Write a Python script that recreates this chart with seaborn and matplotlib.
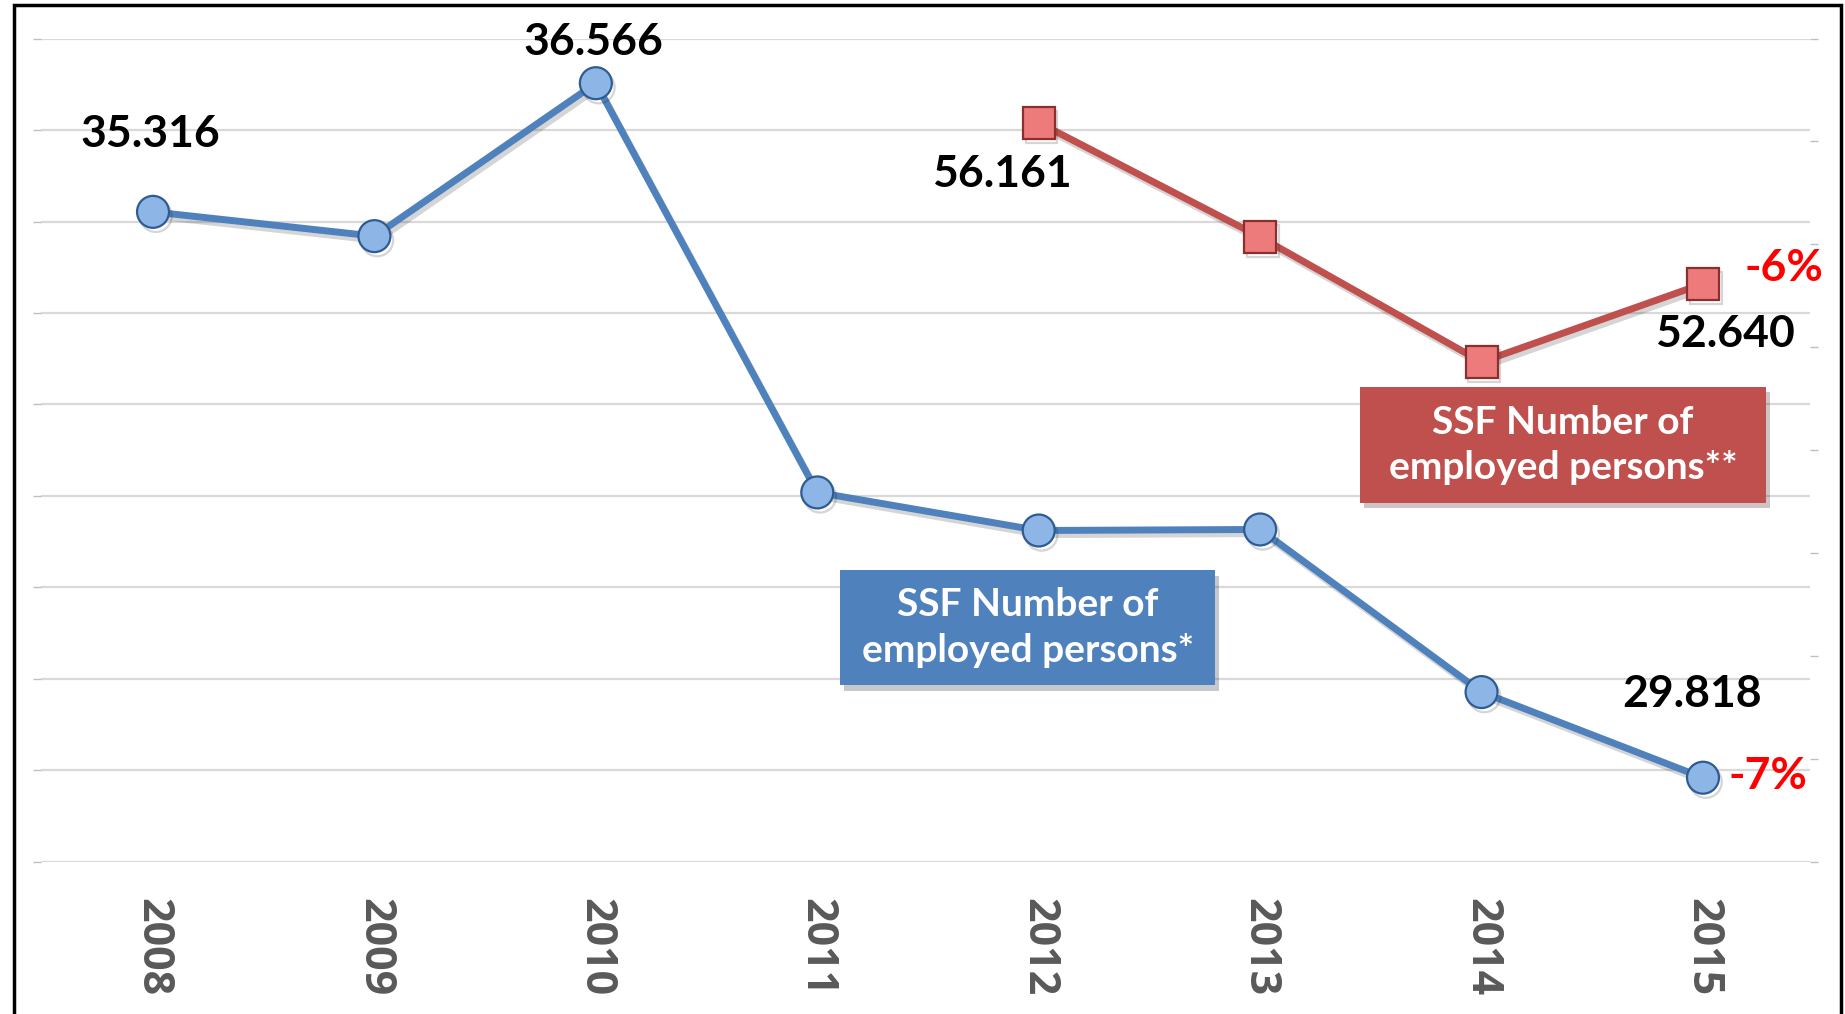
import numpy as np
import pandas as pd
import seaborn as sns
import matplotlib.pyplot as plt
import matplotlib.patheffects as pe
from matplotlib.patches import Rectangle

years = [2008, 2009, 2010, 2011, 2012, 2013, 2014, 2015]
blue_vals = [35.316, 35.08, 36.566, 32.59, 32.22, 32.23, 30.65, 29.818]
red_years = [2012, 2013, 2014, 2015]
red_vals = [56.161, 53.66, 50.93, 52.640]
blue_name = "SSF Number of\nemployed persons*"
red_name = "SSF Number of\nemployed persons**"
blue_change = "-7%"
red_change = "-6%"

BLUE = "#4F81BD"
RED = "#C0504D"

sns.set_theme(style="white")
plt.rcParams['font.family'] = ['Lato', 'DejaVu Sans']

fig = plt.figure(figsize=(18.45, 10.14), dpi=100)
fig.subplots_adjust(left=0.0222, right=0.981, bottom=0.150, top=0.962)
ax = fig.add_subplot(111)
ax2 = ax.twinx()

df_b = pd.DataFrame({"year": years, "val": blue_vals})
df_r = pd.DataFrame({"year": red_years, "val": red_vals})

shadow = [pe.SimpleLineShadow(offset=(2, -3), alpha=0.18), pe.Normal()]

sns.lineplot(data=df_b, x="year", y="val", ax=ax, color=BLUE, linewidth=5,
             marker="o", markersize=23, markerfacecolor="#8DB6E6",
             markeredgecolor="#2E5C92", markeredgewidth=1.6,
             path_effects=shadow, zorder=5)
sns.lineplot(data=df_r, x="year", y="val", ax=ax2, color=RED, linewidth=5,
             marker="s", markersize=23, markerfacecolor="#EE7B7B",
             markeredgecolor="#8A2E2E", markeredgewidth=1.6,
             path_effects=shadow, zorder=5)

ax.set_xlim(2007.494, 2015.483)
ax.set_ylim(29, 37)
ax2.set_ylim(40, 58)
ax.set_yticks(np.linspace(29, 37, 10))
ax2.set_yticks(np.linspace(40, 58, 9))
ax.set_xticks(years)
ax.set_xticklabels([str(y) for y in years], rotation=-90, fontsize=31,
                   fontweight="bold", color="#595959", family=["Open Sans", "DejaVu Sans"])
ax.tick_params(axis="x", length=0, pad=26)
ax.tick_params(axis="y", length=6, width=1, color="#BFBFBF", labelleft=False, left=True)
ax2.tick_params(axis="y", length=6, width=1, color="#BFBFBF", labelright=False, right=True)
ax.grid(axis="y", color="#D9D9D9", linewidth=1.6)
ax.grid(axis="x", visible=False)
ax2.grid(False)
for a in (ax, ax2):
    for s in a.spines.values():
        s.set_visible(False)
    a.set_xlabel("")
    a.set_ylabel("")

lab = dict(textcoords="offset pixels", ha="center", va="center",
           fontsize=32, fontweight="bold", color="black", zorder=10)
ax.annotate(f"{blue_vals[0]:.3f}", (years[0], blue_vals[0]), xytext=(-3, 78), **lab)
ax.annotate(f"{blue_vals[2]:.3f}", (years[2], blue_vals[2]), xytext=(-2, 41), **lab)
ax.annotate(f"{blue_vals[-1]:.3f}", (years[-1], blue_vals[-1]), xytext=(-11, 84), **lab)
ax2.annotate(f"{red_vals[0]:.3f}", (red_years[0], red_vals[0]), xytext=(-37, -51), **lab)
ax2.annotate(f"{red_vals[-1]:.3f}", (red_years[-1], red_vals[-1]), xytext=(22, -50), **lab)
pct = dict(lab, color="#FF0000")
ax2.annotate(red_change, (red_years[-1], red_vals[-1]), xytext=(81, 16), **pct)
ax.annotate(blue_change, (years[-1], blue_vals[-1]), xytext=(65, 2), **pct)

box_shadow = [pe.SimplePatchShadow(offset=(3, -4), alpha=0.25), pe.Normal()]
for (x0, y0, w, h, col, txt) in [(0.4553, 0.3245, 0.2033, 0.1134, BLUE, blue_name),
                                 (0.7371, 0.504, 0.22, 0.1144, RED, red_name)]:
    fig.patches.append(Rectangle((x0, y0), w, h, transform=fig.transFigure,
                                 facecolor=col, edgecolor="none", zorder=20,
                                 path_effects=box_shadow))
    fig.text(x0 + w / 2, y0 + h / 2, txt, ha="center", va="center", color="white",
             fontsize=28, fontweight="bold", linespacing=1.35, zorder=21)

fig.patches.append(Rectangle((0.0076, -0.02), 0.9905, 1.0146, transform=fig.transFigure,
                             facecolor="none", edgecolor="black", linewidth=2.5, zorder=30))

fig.savefig("out.png", dpi=100)
